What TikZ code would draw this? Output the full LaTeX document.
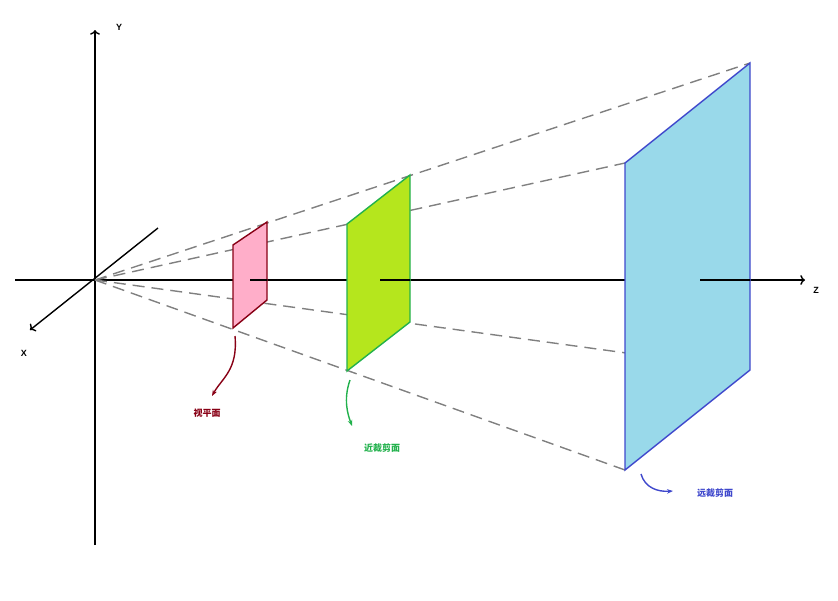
\documentclass[tikz,border=0pt]{standalone}
\usepackage{fontspec}
\setmainfont{Liberation Sans}
\newfontfamily\cjk{Noto Sans CJK SC}
\usetikzlibrary{calc}
\definecolor{pinkfill}{RGB}{255,174,201}
\definecolor{pinkline}{RGB}{136,0,21}
\definecolor{greenfill}{RGB}{181,230,29}
\definecolor{greenline}{RGB}{34,177,76}
\definecolor{bluefill}{RGB}{153,217,234}
\definecolor{blueline}{RGB}{63,72,204}
\tikzset{
  axis/.style={line width=1.4pt,black},
  ray/.style={gray,line width=1.4pt,dash pattern=on 12pt off 7pt},
  plane/.style={line width=1.4pt},
  tag/.style={font=\cjk\bfseries\small},
  pointer/.style={line width=1.4pt,-{Stealth[length=6pt]}}
}
\usetikzlibrary{arrows.meta}
\begin{document}
\begin{tikzpicture}[x=1pt,y=-1pt]
	\useasboundingbox (0,0) rectangle (838,600);
	% axes
	\coordinate (O) at (95,280);
	\draw[axis,->] (95,545) -- (95,30) coordinate (Ytip);
	\draw[axis,->] (158,228) -- (30,330) coordinate (Xtip);
	\draw[axis,->] (15,280) -- (805,280) coordinate (Ztip);
	\node[font=\bfseries\small] (Ylab) at (119,27) {Y};
	\node[font=\bfseries\small] (Xlab) at (24,353) {X};
	\node[font=\bfseries\small] (Zlab) at (816,290) {Z};
	% far corners
	\coordinate (F1) at (625,163);
	\coordinate (F2) at (750,63);
	\coordinate (F3) at (750,370);
	\coordinate (F4) at (625,470);
	% rays
	\foreach \c in {F1,F2,F3,F4}
		\draw[ray] (O) -- (\c);
	% planes
	\draw[plane,fill=pinkfill,draw=pinkline] (233,245) coordinate (P1) -- (267,222) -- (267,300) -- (233,328) coordinate (P4) -- cycle;
	\draw[plane,fill=greenfill,draw=greenline] (347,224) -- (410,175) -- (410,322) -- (347,371) coordinate (G4) -- cycle;
	\draw[plane,fill=bluefill,draw=blueline] (F1) -- (F2) -- (F3) -- (F4) -- cycle;
	% axis in front of planes
	\draw[axis] (250,280) -- (267,280);
	\draw[axis] (380,280) -- (410,280);
	\draw[axis] (700,280) -- (750,280);
	% labels
	\node[tag,text=pinkline] (view) at (207,413) {视平面};
	\node[tag,text=greenline] (near) at (382,448) {近裁剪面};
	\node[tag,text=blueline] (far) at (715,493) {远裁剪面};
	\draw[pointer,pinkline] (235,336) .. controls (238,370) and (222,378) .. (212,396);
	\draw[pointer,greenline] (350,380) .. controls (343,400) and (348,415) .. (352,426);
	\draw[pointer,blueline] (641,474) .. controls (645,488) and (658,492) .. (673,491);
\end{tikzpicture}
\end{document}
